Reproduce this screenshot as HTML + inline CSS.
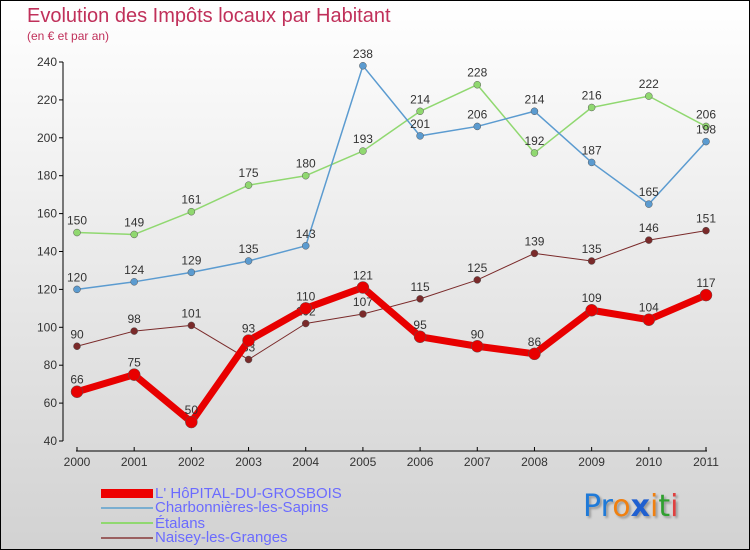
<!DOCTYPE html>
<html><head><meta charset="utf-8"><style>
body{margin:0}
#w{position:relative;width:748px;height:548px;border:1px solid #000;background:linear-gradient(#fff,#d2d2d2);font-family:"Liberation Sans","DejaVu Sans",sans-serif;overflow:hidden}
.t{position:absolute;color:#c0305a}
.lg{position:absolute;left:154px;font-size:15px;color:#6b6bff;line-height:15px}
.ll{position:absolute;left:100px;width:52px}
</style></head><body>
<div id="w">
<div class="t" style="left:26px;top:4px;font-size:20px">Evolution des Impôts locaux par Habitant</div>
<div class="t" style="left:26px;top:28px;font-size:12px">(en € et par an)</div>
<svg id="s" width="748" height="548" style="position:absolute;left:0;top:0"></svg>
<div class="ll" style="top:488px;height:9px;background:#e00"></div>
<div class="lg" style="top:485px">L' HôPITAL-DU-GROSBOIS</div>
<div class="ll" style="top:506px;height:2px;background:#7aaed0"></div>
<div class="lg" style="top:499px">Charbonnières-les-Sapins</div>
<div class="ll" style="top:521px;height:2px;background:#90d870"></div>
<div class="lg" style="top:515px">Étalans</div>
<div class="ll" style="top:536px;height:2px;background:#9a6060"></div>
<div class="lg" style="top:529px">Naisey-les-Granges</div>
<div style="position:absolute;left:582px;top:488px;font-size:30px;font-family:'DejaVu Sans',sans-serif;text-shadow:2px 2px 2px #999"><span style="color:#1f7ad8">Pr</span><span style="color:#f08010">o</span><span style="color:#1f5fd0;font-weight:bold">x</span><span style="color:#f08010">i</span><span style="color:#30a030">t</span><span style="color:#e04040">i</span></div>
</div>
<script>
const years=["2000","2001","2002","2003","2004","2005","2006","2007","2008","2009","2010","2011"];
const yTicks=[40,60,80,100,120,140,160,180,200,220,240];
const hopital=[66,75,50,93,110,121,95,90,86,109,104,117];
const charb=[120,124,129,135,143,238,201,206,214,187,165,198];
const etalans=[150,149,161,175,180,193,214,228,192,216,222,206];
const naisey=[90,98,101,83,102,107,115,125,139,135,146,151];
const s=document.getElementById('s');const NS='http://www.w3.org/2000/svg';
const x=i=>76+i*(705-76)/11;const y=v=>440-(v-40)*(440-61)/200;
function mk(t,a,p){const e=document.createElementNS(NS,t);for(const k in a)e.setAttribute(k,a[k]);(p||s).appendChild(e);return e;}
let ax=mk('line',{x1:62,y1:61,x2:62,y2:440,stroke:'#000'});


yTicks.forEach(v=>{mk('line',{x1:58,x2:62,y1:y(v),y2:y(v),stroke:'#000'});
const t=mk('text',{x:56,y:y(v)+4,'text-anchor':'end','font-size':12,fill:'#333'});t.textContent=v;

});
let xa=mk('line',{x1:75,y1:450,x2:706,y2:450,stroke:'#000'});


years.forEach((yr,i)=>{mk('line',{x1:x(i),x2:x(i),y1:446,y2:450,stroke:'#000'});
const t=mk('text',{x:x(i),y:465,'text-anchor':'middle','font-size':12,fill:'#333'});t.textContent=yr;

});
function series(d,col,w,r,name){const g=mk('g',{});


mk('polyline',{points:d.map((v,i)=>x(i)+','+y(v)).join(' '),fill:'none',stroke:col,'stroke-width':w,'stroke-linejoin':'round'},g);
d.forEach((v,i)=>{const c=mk('circle',{cx:x(i),cy:y(v),r:r,fill:col,stroke:'#555','stroke-width':0.5},g);


const t=mk('text',{x:x(i),y:y(v)-8,'text-anchor':'middle','font-size':12,fill:'#333'},g);t.textContent=v;

});}
series(naisey,'#7a2a2a',1,3.5,'naisey');
series(etalans,'#90d870',1.5,3.5,'etalans');
series(charb,'#5b9bd0',1.5,3.5,'charbonnieres');
series(hopital,'#e80000',7,6,'hopital');
</script>
</body></html>
